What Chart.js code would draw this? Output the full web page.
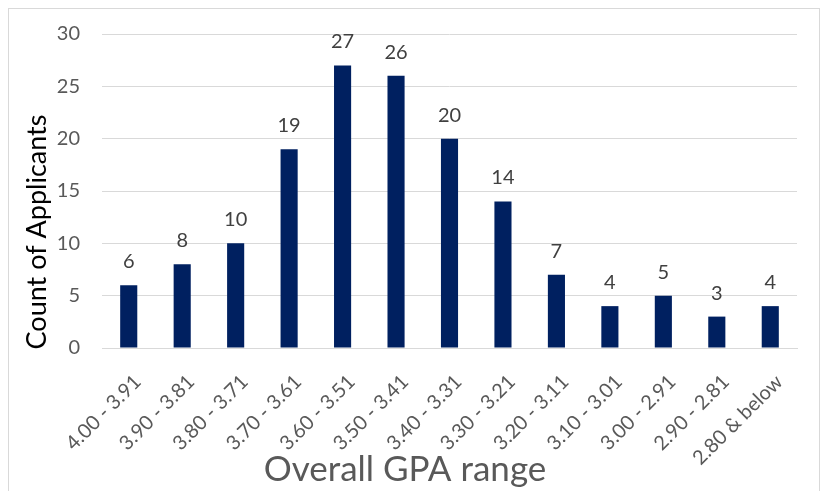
<!DOCTYPE html>
<html>
<head>
<meta charset="utf-8">
<script src="https://cdn.jsdelivr.net/npm/chart.js@4"></script>
<style>
  html, body { margin: 0; padding: 0; background: #ffffff; }
  #wrap { position: relative; width: 828px; height: 491px; }
  #frame { position: absolute; left: 8px; top: 8px; width: 812px; height: 490px; border: 1px solid #d9d9d9; box-sizing: border-box; }
  canvas { position: absolute; left: 0; top: 0; }
</style>
</head>
<body>
<div id="wrap">
  <div id="frame"></div>
  <canvas id="c" width="828" height="491"></canvas>
</div>
<script>
const categories = ["4.00 - 3.91", "3.90 - 3.81", "3.80 - 3.71", "3.70 - 3.61", "3.60 - 3.51", "3.50 - 3.41", "3.40 - 3.31", "3.30 - 3.21", "3.20 - 3.11", "3.10 - 3.01", "3.00 - 2.91", "2.90 - 2.81", "2.80 & below"];
const applicantCounts = [6, 8, 10, 19, 27, 26, 20, 14, 7, 4, 5, 3, 4];
const yTicks = [0, 5, 10, 15, 20, 25, 30];
const xTitle = "Overall GPA range";
const yTitle = "Count of Applicants";

const FONT = "Lato, 'Open Sans', sans-serif";

const valueLabels = {
  id: 'valueLabels',
  afterDatasetsDraw(chart) {
    const ctx = chart.ctx;
    const meta = chart.getDatasetMeta(0);
    ctx.save();
    ctx.font = "20px " + FONT;
    ctx.fillStyle = "#404040";
    ctx.textAlign = "center";
    ctx.textBaseline = "alphabetic";
    meta.data.forEach((bar, i) => {
      ctx.fillText(String(chart.data.datasets[0].data[i]), bar.x, bar.y - 17);
    });
    ctx.restore();
  }
};

const axisTitles = {
  id: 'axisTitles',
  afterDraw(chart) {
    const ctx = chart.ctx;
    ctx.save();
    ctx.textAlign = "center";
    ctx.textBaseline = "alphabetic";
    ctx.fillStyle = "#595959";
    ctx.font = "35px " + FONT;
    ctx.fillText(xTitle, 405, 481);
    ctx.translate(46, 232);
    ctx.rotate(-Math.PI / 2);
    ctx.fillStyle = "#000000";
    ctx.font = "27px " + FONT;
    ctx.fillText(yTitle, 0, 0);
    ctx.restore();
  }
};

new Chart(document.getElementById('c'), {
  type: 'bar',
  data: {
    labels: categories,
    datasets: [{
      data: applicantCounts,
      backgroundColor: '#002060',
      borderWidth: 0,
      barPercentage: 0.32,
      categoryPercentage: 1.0
    }]
  },
  options: {
    responsive: false,
    animation: false,
    devicePixelRatio: 1,
    layout: { padding: { left: 20, right: 31, top: 33, bottom: 10 } },
    plugins: { legend: { display: false }, tooltip: { enabled: false } },
    scales: {
      x: {
        grid: { display: false, drawTicks: false },
        border: { display: true, color: '#d9d9d9', width: 1 },
        ticks: {
          color: '#595959',
          font: { family: FONT, size: 20 },
          minRotation: 45, maxRotation: 45,
          padding: 22,
          labelOffset: 9,
          autoSkip: false
        },
        afterFit(scale) { scale.height = 133; }
      },
      y: {
        min: 0, max: 30,
        afterBuildTicks(scale) { scale.ticks = yTicks.map(v => ({ value: v })); },
        grid: { color: '#d9d9d9', drawTicks: false, lineWidth: 1 },
        border: { display: false },
        ticks: {
          color: '#595959',
          font: { family: FONT, size: 20 },
          padding: 22
        },
        afterFit(scale) { scale.width = 82; }
      }
    }
  },
  plugins: [valueLabels, axisTitles]
});
</script>
</body>
</html>
